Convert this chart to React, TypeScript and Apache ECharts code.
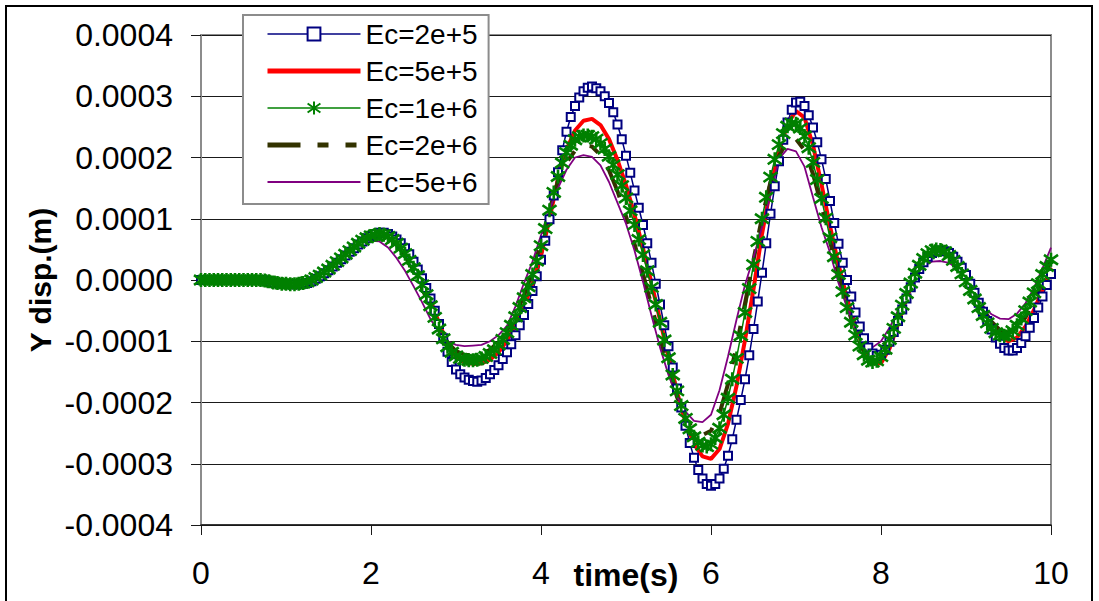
import { useEffect, useRef } from "react";
import * as echarts from "echarts";

// Values, in units of 1e-5 m
const UNIT = 1e-5;
const FINE_STEP = 0.05; // s, for the marker series
const COARSE_STEP = 0.1; // s, for the plain line series

const seriesNames = ["Ec=2e+5", "Ec=5e+5", "Ec=1e+6", "Ec=2e+6", "Ec=5e+6"];
const xTicks = [0, 2, 4, 6, 8, 10];
const yTicks = [-0.0004, -0.0003, -0.0002, -0.0001, 0, 0.0001, 0.0002, 0.0003, 0.0004];

// Ec=2e+5, t = 0 .. 10 s every 0.05 s
const ec2e5 = [
  0, 0, 0, 0, 0, 0, 0, 0, 0, 0, 0, 0, 0, 0, 0, -0.1, -0.2, -0.4, -0.5, -0.6,
  -0.6, -0.7, -0.7, -0.7, -0.6, -0.5, -0.2, 0.2, 0.6, 1.1, 1.6, 2.2, 2.8, 3.4, 4.0, 4.6, 5.2, 5.8, 6.3, 6.8,
  7.2, 7.5, 7.7, 7.7, 7.5, 7.1, 6.6, 6.0, 5.2, 4.2, 3.0, 1.7, 0.3, -1.3, -3.0, -5.0, -7.2, -9.5, -11.7, -13.4,
  -14.6, -15.4, -15.9, -16.3, -16.5, -16.6, -16.4, -16.0, -15.4, -14.7, -13.9, -12.9, -11.8, -10.5, -9.0, -7.4, -5.7, -3.9, -1.8, 0.6,
  3.3, 6.4, 9.9, 13.8, 17.6, 21.2, 24.2, 26.6, 28.4, 29.8, 30.8, 31.4, 31.6, 31.3, 30.8, 30.0, 28.9, 27.4, 25.4, 23.0,
  20.3, 17.5, 14.6, 11.8, 9.0, 6.0, 2.8, -0.6, -4.0, -7.4, -10.8, -14.3, -17.7, -20.8, -23.8, -26.6, -29.0, -31.0, -32.4, -33.3,
  -33.6, -33.3, -32.4, -30.8, -28.7, -26.0, -22.8, -19.6, -16.2, -12.3, -8.0, -3.5, 1.2, 6.0, 10.8, 15.3, 19.4, 22.9, 25.7, 27.8,
  29.0, 29.1, 28.4, 26.9, 24.9, 22.5, 19.7, 16.5, 12.9, 9.3, 5.9, 2.8, 0.0, -2.7, -5.3, -7.6, -9.5, -11.0, -12.0, -12.4,
  -12.2, -11.4, -10.1, -8.5, -6.7, -4.8, -3.0, -1.2, 0.4, 1.8, 2.9, 3.8, 4.4, 4.7, 4.8, 4.7, 4.4, 3.8, 3.0, 2.0,
  0.8, -0.6, -2.1, -3.7, -5.2, -6.7, -8.1, -9.4, -10.4, -11.1, -11.5, -11.5, -11.1, -10.3, -9.2, -7.8, -6.2, -4.5, -2.7, -0.8,
  1.0,
];

// Ec=5e+5, t = 0 .. 10 s every 0.1 s
const ec5e5 = [
  0, 0, 0, 0, 0, 0, 0, 0, -0.2, -0.5,
  -0.6, -0.7, -0.6, -0.2, 0.6, 1.6, 2.8, 4.0, 5.2, 6.3,
  7.1, 7.6, 7.5, 6.6, 5.1, 2.9, 0.1, -3.3, -7.0, -10.4,
  -12.5, -13.4, -13.7, -13.6, -13.0, -11.8, -9.9, -7.3, -4.3, -0.6,
  4.0, 10.0, 16.5, 21.3, 24.4, 26.0, 26.3, 25.3, 23.0, 19.6,
  15.5, 10.6, 5.2, -0.5, -6.5, -12.6, -18.3, -23.2, -26.8, -28.8,
  -29.2, -27.6, -23.5, -17.3, -9.8, -1.5, 7.5, 15.0, 21.0, 25.5,
  27.6, 26.5, 22.0, 15.6, 8.8, 2.5, -3.0, -7.6, -11.3, -13.5,
  -13.6, -11.2, -7.2, -3.0, 0.5, 3.0, 4.4, 4.9, 4.5, 3.1,
  0.9, -1.9, -4.9, -7.6, -9.4, -10.0, -9.4, -7.6, -4.9, -1.6,
  2.0,
];

// Ec=1e+6, t = 0 .. 10 s every 0.05 s
const ec1e6 = [
  0, 0, 0, 0, 0, 0, 0, 0, 0, 0, 0, 0, 0, 0, 0, -0.1, -0.2, -0.4, -0.5, -0.6,
  -0.6, -0.7, -0.7, -0.6, -0.5, -0.3, 0.0, 0.4, 0.8, 1.3, 1.8, 2.4, 3.0, 3.6, 4.2, 4.8, 5.4, 6.0, 6.5, 6.9,
  7.2, 7.4, 7.5, 7.4, 7.1, 6.6, 6.0, 5.2, 4.3, 3.2, 2.0, 0.7, -0.8, -2.4, -4.2, -6.1, -8.0, -9.6, -10.9, -11.8,
  -12.4, -12.8, -13.0, -13.1, -13.1, -13.0, -12.8, -12.5, -12.0, -11.4, -10.6, -9.7, -8.6, -7.4, -6.0, -4.5, -2.9, -1.1, 0.9, 3.1,
  5.6, 8.4, 11.4, 14.3, 16.9, 19.1, 20.8, 22.0, 22.9, 23.4, 23.6, 23.6, 23.4, 23.0, 22.3, 21.4, 20.2, 18.8, 17.2, 15.4,
  13.4, 11.3, 9.0, 6.6, 4.1, 1.5, -1.2, -4.0, -6.9, -9.8, -12.7, -15.5, -18.1, -20.5, -22.6, -24.3, -25.6, -26.5, -27.0, -27.2,
  -26.8, -25.8, -24.2, -22.0, -19.3, -16.2, -12.8, -9.1, -5.3, -1.4, 2.5, 6.3, 10.0, 13.5, 16.8, 19.7, 22.1, 23.9, 25.1, 25.6,
  25.5, 24.8, 23.5, 21.6, 19.2, 16.4, 13.3, 10.1, 6.9, 3.8, 0.9, -1.9, -4.5, -6.9, -9.0, -10.8, -12.2, -13.1, -13.4, -13.2,
  -12.5, -11.3, -9.7, -7.9, -6.0, -4.1, -2.2, -0.5, 1.1, 2.4, 3.5, 4.3, 4.8, 5.0, 4.9, 4.6, 4.0, 3.2, 2.2, 1.0,
  -0.3, -1.7, -3.1, -4.5, -5.8, -7.0, -7.9, -8.6, -9.0, -9.1, -8.9, -8.3, -7.4, -6.3, -5.0, -3.6, -2.1, -0.6, 0.9, 2.2,
  3.3,
];

// Ec=2e+6, t = 0 .. 10 s every 0.1 s
const ec2e6 = [
  0, 0, 0, 0, 0, 0, 0, 0, -0.2, -0.5,
  -0.6, -0.6, -0.5, -0.1, 0.8, 1.9, 3.1, 4.3, 5.5, 6.5,
  7.1, 7.3, 6.9, 5.8, 4.0, 1.6, -1.3, -4.6, -7.8, -10.2,
  -11.6, -12.2, -12.3, -12.1, -11.4, -10.1, -8.1, -5.6, -2.5, 1.4,
  6.1, 11.5, 16.0, 19.2, 21.1, 22.0, 21.8, 20.4, 17.9, 14.5,
  10.4, 5.9, 1.0, -4.2, -9.5, -14.6, -19.1, -22.5, -24.6, -25.3,
  -24.6, -21.8, -17.0, -10.8, -3.8, 3.3, 10.2, 16.0, 20.3, 22.7,
  23.0, 21.2, 17.3, 12.1, 6.3, 0.9, -4.2, -8.4, -11.6, -13.0,
  -12.4, -10.0, -6.3, -2.4, 1.0, 3.4, 4.7, 5.0, 4.4, 2.8,
  0.5, -2.1, -4.7, -6.8, -8.2, -8.6, -7.9, -6.1, -3.4, -0.2,
  3.5,
];

// Ec=5e+6, t = 0 .. 10 s every 0.1 s
const ec5e6 = [
  0, 0, 0, 0, 0, 0, 0, 0, -0.2, -0.4,
  -0.5, -0.5, -0.3, 0.2, 1.0, 2.0, 3.1, 4.2, 5.2, 6.0,
  6.4, 6.3, 5.3, 3.6, 1.5, -1.0, -3.6, -6.4, -8.5, -10.0,
  -10.6, -10.8, -10.7, -10.6, -10.0, -9.0, -7.5, -4.3, -0.5, 3.0,
  7.3, 11.5, 15.0, 18.0, 20.0, 20.4, 20.1, 18.7, 16.0, 12.6,
  9.2, 4.8, -0.3, -5.8, -11.0, -15.5, -19.0, -21.5, -23.0, -23.2,
  -22.0, -18.0, -12.5, -6.5, -0.8, 3.7, 8.6, 13.8, 19.8, 21.4,
  21.0, 18.5, 13.5, 8.6, 4.5, -0.5, -4.5, -7.8, -10.0, -11.0,
  -10.0, -7.8, -5.0, -2.0, 0.8, 2.3, 3.0, 3.1, 2.8, 1.8,
  0.0, -2.2, -4.2, -5.6, -6.3, -6.4, -5.5, -3.8, -1.3, 1.9,
  5.3,
];

const FONT = "'Liberation Sans', Arial, sans-serif";

function toPairs(values: number[], step: number) {
  return values.map((v, i) => [Math.round(i * step * 100) / 100, v * UNIT]);
}

const STAR = "path://M10,0L10,20M2,3L18,17M2,17L18,3";
const OLIVE_DASH = [33, 17, 11, 17, 11, 17];

export default function App() {
  const ref = useRef<HTMLDivElement>(null);

  useEffect(() => {
    if (!ref.current) return;
    const chart = echarts.init(ref.current, undefined, { renderer: "svg" });
    const option = {
      animation: false,
      backgroundColor: "#ffffff",
      textStyle: { fontFamily: FONT },
      graphic: [
        {
          type: "rect",
          silent: true,
          z: 100,
          shape: { x: 6, y: 6, width: 1086, height: 700 },
          style: { fill: "none", stroke: "#000", lineWidth: 2 },
        },
      ],
      grid: {
        left: 201,
        right: 48,
        top: 35,
        bottom: 76,
        outerBoundsMode: "none",
        containLabel: false,
        show: true,
        borderColor: "#8c8c8c",
        borderWidth: 2,
        backgroundColor: "transparent",
      },
      legend: {
        orient: "vertical",
        left: 243,
        top: 15,
        padding: [5, 11, 8, 22],
        itemGap: 9,
        itemWidth: 93,
        itemHeight: 16,
        itemTextGap: 9,
        backgroundColor: "#ffffff",
        borderColor: "#8c8c8c",
        borderWidth: 2,
        borderRadius: 0,
        data: [
          { name: seriesNames[0], lineStyle: { width: 1.5 } },
          { name: seriesNames[1], itemStyle: { opacity: 0 }, lineStyle: { width: 5, color: "#ff0000" } },
          { name: seriesNames[2], lineStyle: { width: 1.5 } },
          {
            name: seriesNames[3],
            itemStyle: { opacity: 0 },
            lineStyle: { width: 5, color: "#333300", type: OLIVE_DASH },
          },
          { name: seriesNames[4], itemStyle: { opacity: 0 }, lineStyle: { width: 2, color: "#800080" } },
        ],
        textStyle: { fontFamily: FONT, fontSize: 28, color: "#000" },
      },
      xAxis: {
        type: "value",
        min: xTicks[0],
        max: xTicks[xTicks.length - 1],
        interval: 2,
        name: "time(s)",
        nameLocation: "middle",
        nameGap: 34,
        nameMoveOverlap: false,
        nameTextStyle: { fontFamily: FONT, fontSize: 32, fontWeight: "bold", color: "#000" },
        axisLine: { onZero: false, lineStyle: { color: "#1a1a1a", width: 1.5 } },
        axisTick: { show: true, length: 10, lineStyle: { color: "#1a1a1a", width: 1 } },
        axisLabel: { fontFamily: FONT, fontSize: 32, color: "#000", margin: 32 },
        splitLine: { show: false },
      },
      yAxis: {
        type: "value",
        min: yTicks[0],
        max: yTicks[yTicks.length - 1],
        interval: 0.0001,
        name: "Y disp.(m)",
        nameLocation: "middle",
        nameRotate: 90,
        nameGap: 146,
        nameMoveOverlap: false,
        nameTextStyle: { fontFamily: FONT, fontSize: 30, fontWeight: "bold", color: "#000" },
        axisLine: { lineStyle: { color: "#8c8c8c", width: 2 } },
        axisTick: { show: true, length: 10, lineStyle: { color: "#1a1a1a", width: 1 } },
        axisLabel: {
          fontFamily: FONT,
          fontSize: 32,
          color: "#000",
          margin: 28,
          formatter: (v: number) => (Math.abs(v) < 1e-12 ? "0.0000" : v.toFixed(4)),
        },
        splitLine: { show: true, lineStyle: { color: "#1a1a1a", width: 1 } },
      },
      series: [
        {
          name: seriesNames[0],
          type: "line",
          data: toPairs(ec2e5, FINE_STEP),
          symbol: "emptyRect",
          symbolSize: 8,
          showAllSymbol: true,
          lineStyle: { color: "#000080", width: 1.5 },
          itemStyle: { color: "#000080", borderColor: "#000080", borderWidth: 2 },
        },
        {
          name: seriesNames[1],
          type: "line",
          data: toPairs(ec5e5, COARSE_STEP),
          symbol: "none",
          lineStyle: { color: "#ff0000", width: 4 },
          itemStyle: { color: "#ff0000" },
        },
        {
          name: seriesNames[2],
          type: "line",
          data: toPairs(ec1e6, FINE_STEP),
          symbol: STAR,
          symbolSize: 14,
          showAllSymbol: true,
          lineStyle: { color: "#008000", width: 1.5 },
          itemStyle: { color: "#008000", borderColor: "#008000", borderWidth: 2.6 },
        },
        {
          name: seriesNames[3],
          type: "line",
          data: toPairs(ec2e6, COARSE_STEP),
          symbol: "none",
          lineStyle: { color: "#333300", width: 4, type: OLIVE_DASH },
          itemStyle: { color: "#333300" },
        },
        {
          name: seriesNames[4],
          type: "line",
          data: toPairs(ec5e6, COARSE_STEP),
          symbol: "none",
          lineStyle: { color: "#800080", width: 1.8 },
          itemStyle: { color: "#800080" },
        },
      ],
    };
    chart.setOption(option as any);
    return () => chart.dispose();
  }, []);

  return (
    <div
      ref={ref}
      style={{ position: "fixed", left: 0, top: 0, width: 1099, height: 601, background: "#fff" }}
    />
  );
}
